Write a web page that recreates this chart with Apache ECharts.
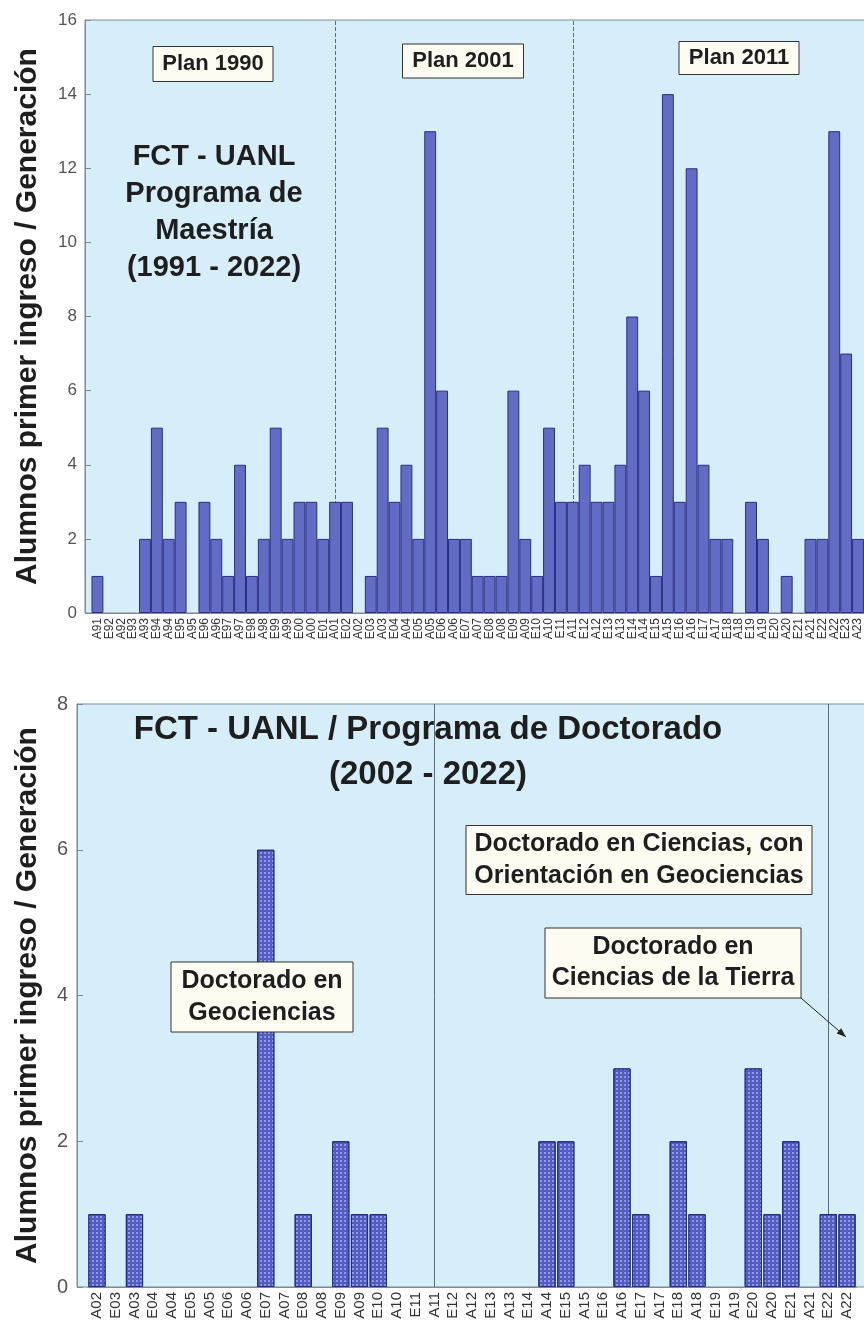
<!DOCTYPE html>
<html>
<head>
<meta charset="utf-8">
<script src="https://cdn.jsdelivr.net/npm/echarts@6/dist/echarts.min.js"></script>
<style>
  html, body { margin: 0; padding: 0; background: #fff; }
  #chart { width: 864px; height: 1327px; }
</style>
</head>
<body>
<div id="chart"></div>
<script>
// Maestria: generations A91 .. A23 (two intakes per year)
const mCats = ['A91','E92','A92','E93','A93','E94','A94','E95','A95','E96','A96','E97','A97',
  'E98','A98','E99','A99','E00','A00','E01','A01','E02','A02','E03','A03','E04','A04','E05','A05',
  'E06','A06','E07','A07','E08','A08','E09','A09','E10','A10','E11','A11','E12','A12','E13','A13',
  'E14','A14','E15','A15','E16','A16','E17','A17','E18','A18','E19','A19','E20','A20','E21','A21',
  'E22','A22','E23','A23'];
const mVals = [1,0,0,0,2,5,2,3,0,3,2,1,4,1,2,5,2,3,3,2,3,3,0,1,5,3,4,2,13,6,2,2,1,1,1,6,2,1,5,3,
  3,4,3,3,4,8,6,1,14,3,12,4,2,2,0,3,2,0,1,0,2,2,13,7,2];
const mPlanLines = ['A01', 'A11'];
const mTicks = [0, 16, 2];

// Doctorado: generations A02 .. A22
const dCats = ['A02','E03','A03','E04','A04','E05','A05','E06','A06','E07','A07','E08','A08',
  'E09','A09','E10','A10','E11','A11','E12','A12','E13','A13','E14','A14','E15','A15','E16','A16',
  'E17','A17','E18','A18','E19','A19','E20','A20','E21','A21','E22','A22'];
const dVals = [1,0,1,0,0,0,0,0,0,6,0,1,0,2,1,1,0,0,0,0,0,0,0,0,2,2,0,0,3,1,0,2,1,0,0,3,1,2,0,1,1];
const dPlanLines = ['A11', 'E22'];
const dTicks = [0, 8, 2];

const yName = 'Alumnos primer ingreso / Generación';
const FONT = '"Liberation Sans", Arial, sans-serif';
const PANEL = '#d6eefa';
const AXIS = '#7d8a92';

// plot panels (pixel layout)
const top1 = 20, bot1 = 613, axisX1 = 85, catL1 = 91.5, catR1 = 866.3;
const top2 = 704, bot2 = 1287, axisX2 = 77, catL2 = 87.6, catR2 = 856.4;

function panel(x, y0, y1) {
  return {
    type: 'rect', z: -10, silent: true,
    shape: { x: x, y: y0, width: 900 - x, height: y1 - y0 },
    style: { fill: PANEL, stroke: AXIS, lineWidth: 1 }
  };
}

function box(cx, cy, w, h, text, size, lh) {
  return [{
    type: 'rect', z: 50, silent: true,
    shape: { x: cx - w / 2, y: cy - h / 2, width: w, height: h },
    style: { fill: '#fdfcf2', stroke: '#333', lineWidth: 1 }
  }, {
    type: 'text', z: 51, silent: true,
    style: { text: text, x: cx, y: cy, align: 'center', verticalAlign: 'middle',
      font: 'bold ' + size + 'px ' + FONT, fill: '#1e1e1e', lineHeight: lh }
  }];
}

function label(cx, cy, text, size, lh) {
  return {
    type: 'text', z: 51, silent: true,
    style: { text: text, x: cx, y: cy, align: 'center', verticalAlign: 'middle',
      font: 'bold ' + size + 'px ' + FONT, fill: '#1e1e1e', lineHeight: lh }
  };
}

// arrow from the "Ciencias de la Tierra" box to the E22 line
const ax1 = 801, ay1 = 998, ax2 = 846, ay2 = 1037;
const ang = Math.atan2(ay2 - ay1, ax2 - ax1);
const head = [[ax2, ay2],
  [ax2 - 10 * Math.cos(ang - 0.35), ay2 - 10 * Math.sin(ang - 0.35)],
  [ax2 - 10 * Math.cos(ang + 0.35), ay2 - 10 * Math.sin(ang + 0.35)]];

const graphics = [
  panel(axisX1, top1, bot1),
  panel(axisX2, top2, bot2),
  label(214, 212, 'FCT - UANL\nPrograma de\nMaestría\n(1991 - 2022)', 29, 37),
  label(428, 752, 'FCT - UANL / Programa de Doctorado\n(2002 - 2022)', 33, 45),
  { type: 'line', z: 50, silent: true,
    shape: { x1: ax1, y1: ay1, x2: ax2, y2: ay2 },
    style: { stroke: '#222', lineWidth: 1 } },
  { type: 'polygon', z: 50, silent: true,
    shape: { points: head }, style: { fill: '#222' } }
].concat(
  box(213, 64, 120, 35, 'Plan 1990', 22, 24),
  box(463, 61, 121, 34, 'Plan 2001', 22, 24),
  box(739, 58, 120, 33, 'Plan 2011', 22, 24),
  box(262, 997, 182, 70, 'Doctorado en\nGeociencias', 25, 32),
  box(639, 860, 346, 69, 'Doctorado en Ciencias, con\nOrientación en Geociencias', 25, 32),
  box(673, 963, 256, 70, 'Doctorado en\nCiencias de la Tierra', 25, 31)
);

function yAxisFor(gi, ticks, off, labelSize, gap, margin) {
  return {
    gridIndex: gi, type: 'value', min: ticks[0], max: ticks[1], interval: ticks[2],
    offset: off,
    name: yName, nameLocation: 'middle', nameGap: gap, nameRotate: 90,
    nameTextStyle: { fontFamily: FONT, fontWeight: 'bold', fontSize: 30, color: '#1e1e1e' },
    axisLine: { show: true, lineStyle: { color: AXIS, width: 1 } },
    axisTick: { show: true, inside: true, length: 6, lineStyle: { color: AXIS } },
    axisLabel: { fontFamily: FONT, fontSize: labelSize, color: '#555', margin: margin },
    splitLine: { show: false }
  };
}

function xAxisFor(gi, cats, size) {
  return {
    gridIndex: gi, type: 'category', data: cats, boundaryGap: true,
    axisLine: { show: true, lineStyle: { color: AXIS } },
    axisTick: { show: false },
    axisLabel: { interval: 0, rotate: 90, fontFamily: FONT, fontSize: size, color: '#333', margin: 5 },
    splitLine: { show: false }
  };
}

function planLines(names, type) {
  return {
    silent: true, z: 1, symbol: ['none', 'none'], label: { show: false },
    lineStyle: { color: '#5d6b73', width: 1, type: type },
    data: names.map(function (n) { return { xAxis: n }; })
  };
}

// empty generations draw no bar
function bars(vals) {
  return vals.map(function (v) { return v === 0 ? '-' : v; });
}

const option = {
  animation: false,
  backgroundColor: '#fff',
  graphic: graphics,
  grid: [
    { left: catL1, right: 864 - catR1, top: top1, bottom: 1327 - bot1 },
    { left: catL2, right: 864 - catR2, top: top2, bottom: 1327 - bot2 }
  ],
  xAxis: [xAxisFor(0, mCats, 12), xAxisFor(1, dCats, 15)],
  yAxis: [
    yAxisFor(0, mTicks, catL1 - axisX1, 17, 42, 8),
    yAxisFor(1, dTicks, catL2 - axisX2, 20, 34, 9)
  ],
  series: [{
    type: 'bar', xAxisIndex: 0, yAxisIndex: 0, z: 2,
    data: bars(mVals), barCategoryGap: '0%',
    itemStyle: { color: '#636cc4', borderColor: '#2a2e7e', borderWidth: 1 },
    markLine: planLines(mPlanLines, 'dashed')
  }, {
    type: 'bar', xAxisIndex: 1, yAxisIndex: 1, z: 2,
    data: bars(dVals), barCategoryGap: '8%',
    itemStyle: {
      color: '#525cc2', borderColor: '#262b80', borderWidth: 1,
      decal: { symbol: 'rect', symbolSize: 1, color: 'rgba(200,210,250,0.5)',
        dashArrayX: [1.5, 1.5], dashArrayY: [1.5, 1.5], rotation: 0 }
    },
    markLine: planLines(dPlanLines, 'solid')
  }]
};

const chart = echarts.init(document.getElementById('chart'), null, { renderer: 'canvas' });
chart.setOption(option);
</script>
</body>
</html>
